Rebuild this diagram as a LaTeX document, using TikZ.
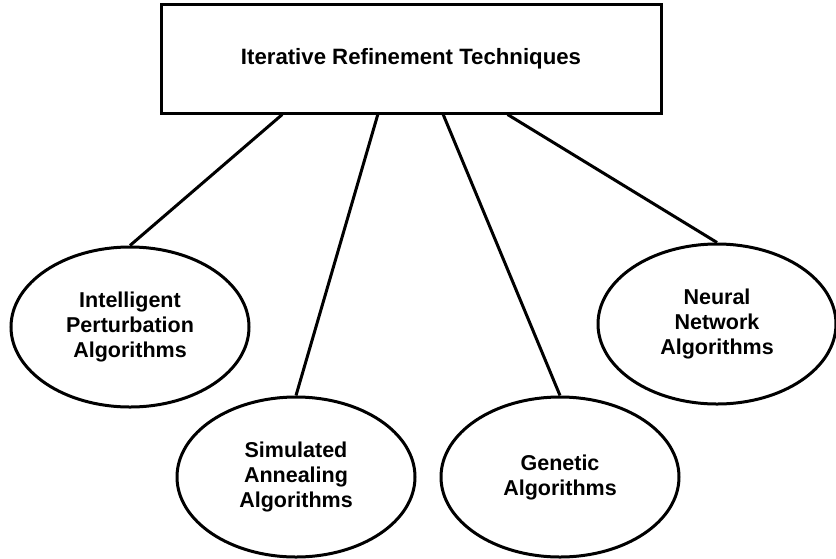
\documentclass[tikz,border=0pt]{standalone}
\usepackage{fontspec}
\setmainfont{Liberation Sans}
\usetikzlibrary{shapes.geometric}
\usetikzlibrary{calc}

\begin{document}
\begin{tikzpicture}[x=1pt, y=-1pt,
	topbox/.style={draw, line width=3pt, minimum width=500pt, minimum height=109pt, inner sep=0pt, font=\fontsize{22.2}{26}\selectfont\bfseries},
	algo/.style={draw, ellipse, line width=3pt, minimum width=238pt, minimum height=160pt, inner sep=0pt, align=center},
	link/.style={line width=3pt},
	font=\fontsize{21.5}{25}\selectfont\bfseries]
	\useasboundingbox (0,0) rectangle (836,558);

	\node[topbox] (irt) at (411,58.5) {Iterative Refinement Techniques};

	\node[algo] (ipa) at (130,327) {Intelligent\\Perturbation\\Algorithms};
	\node[algo] (saa) at (296,477) {Simulated\\Annealing\\Algorithms};
	\node[algo] (gea) at (560,477) {Genetic\\Algorithms};
	\node[algo] (nna) at (717,324) {Neural\\Network\\Algorithms};

	\foreach \f/\e in {0.244/ipa, 0.434/saa, 0.564/gea, 0.692/nna}
		\draw[link] ($(irt.south west)!\f!(irt.south east)$) -- (\e.north);
\end{tikzpicture}
\end{document}
